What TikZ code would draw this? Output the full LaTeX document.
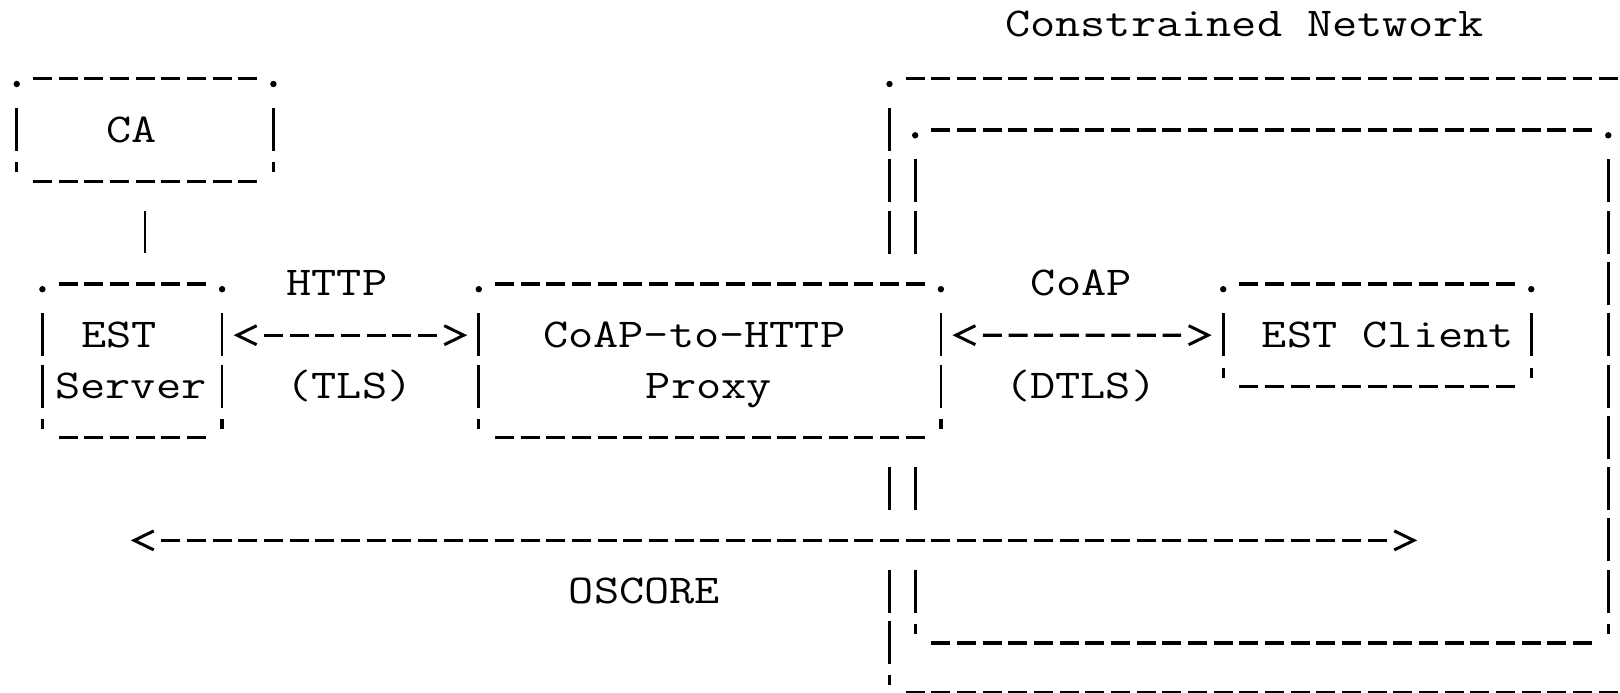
\documentclass[tikz,border=0pt]{standalone}
\usepackage{graphicx}
\usetikzlibrary{fit,decorations.markings}
\tikzset{
  declare function={
    L(\c)=3.9+25.67*\c;
    C(\c)=16.73+25.67*\c;
    T(\r)=108+(\r-2)*51.3;
    D(\r)=130+(\r-2)*51.3;
    B(\r)=142+(\r-2)*51.3;
  },
  hdash/.style={line width=3.2pt, dash pattern=on 19pt off 6.67pt},
  vdash/.style={line width=2.7pt, dash pattern=on 43pt off 8.3pt},
  tickline/.style={line width=3.3pt},
  chv/.style={line width=3pt, solid, line join=miter},
  boxn/.style={inner sep=0pt, draw=none},
  tx/.style={inner sep=0pt, anchor=base west, font=\fontsize{41}{41}\selectfont\ttfamily},
  asciiarrow/.style={draw=none,
    postaction={draw, hdash, shorten <=41.84pt, shorten >=41.84pt},
    postaction={decorate, decoration={markings,
      mark=at position 14.84pt with {\draw[chv] (19.5pt,9.5pt) -- (0pt,0pt) -- (19.5pt,-9.5pt);},
      mark=at position -14.84pt with {\draw[chv] (-19.5pt,9.5pt) -- (0pt,0pt) -- (-19.5pt,-9.5pt);}}}}
}
\newcommand\xs[1]{\scalebox{1.1926}[1]{#1}}
\newcommand\aHD[3]{\draw[hdash] ({L(#1)+3.33},{D(#3)}) -- ({L(#2)+22.34},{D(#3)});}
\newcommand\aDot[2]{\fill ({C(#1)},{D(#2)+5.3}) circle (3.2pt);}
\newcommand\aTick[2]{\draw[tickline] ({C(#1)},{D(#2)-19}) -- ({C(#1)},{D(#2)-9});}
\newcommand\aBar[3]{\draw[vdash] ({C(#1)},{T(#2)}) -- ({C(#1)},{T(#3)+43});}
\newcommand\aBox[5]{%
  \node[boxn, fit={({C(#2)},{D(#3)}) ({C(#4)},{D(#5)})}] (#1) {};
  \aDot{#2}{#3}\aDot{#4}{#3}\aHD{#2+1}{#4-1}{#3}%
  \aBar{#2}{#3+1}{#5-1}\aBar{#4}{#3+1}{#5-1}%
  \aTick{#2}{#5}\aTick{#4}{#5}\aHD{#2+1}{#4-1}{#5}}
\begin{document}
\begin{tikzpicture}[x=1pt,y=-1pt]
\path[use as bounding box, fill=white] (0,0) rectangle (1620,693);

% title
\node[tx] (tnet) at ({L(39)},{B(0)-3}) {\xs{Constrained Network}};

% boxes
\aBox{ca}{0}{1}{10}{3}
\aBox{est}{1}{5}{8}{8}
\aBox{proxy}{18}{5}{36}{8}
\aBox{client}{47}{5}{59}{7}

% outer constrained-network box
\node[boxn, fit={({C(34)},{D(1)}) ({C(63)},{D(13)})}] (outer) {};
\aDot{34}{1}\aHD{35}{62}{1}
\aBar{34}{2}{4}\aBar{34}{9}{9}\aBar{34}{11}{12}
\aTick{34}{13}
\draw[hdash] ({L(35)+3.33},692.2) -- ({L(62)+22.34},692.2);

% inner box
\node[boxn, fit={({C(35)},{D(2)}) ({C(62)},{D(12)})}] (inner) {};
\aDot{35}{2}\aDot{62}{2}\aHD{36}{61}{2}
\aBar{35}{3}{4}\aBar{35}{9}{9}\aBar{35}{11}{11}
\aBar{62}{3}{11}
\aTick{35}{12}\aTick{62}{12}\aHD{36}{61}{12}

% box texts
\node[tx] (tca) at ({L(4)},{B(2)}) {\xs{CA}};
\node[tx] (test1) at ({L(3)},{B(6)}) {\xs{EST}};
\node[tx] (test2) at ({L(2)},{B(7)}) {\xs{Server}};
\node[tx] (tproxy1) at ({L(21)},{B(6)}) {\xs{CoAP-to-HTTP}};
\node[tx] (tproxy2) at ({L(25)},{B(7)}) {\xs{Proxy}};
\node[tx] (tclient) at ({L(49)},{B(6)}) {\xs{EST Client}};

% connector CA -- EST server
\draw[vdash, shorten <=29.3pt, shorten >=30.3pt] (ca.south) -- (ca.south |- est.north);

% HTTP / CoAP arrows
\draw[asciiarrow] ([yshift=25.65pt]est.east) -- ([yshift=25.65pt]proxy.west);
\draw[asciiarrow] ([yshift=25.65pt]proxy.east) -- (client.west);
\node[tx] (thttp) at ({L(11)},{B(5)}) {\xs{HTTP}};
\node[tx] (ttls) at ({L(11)},{B(7)}) {\xs{(TLS)}};
\node[tx] (tcoap) at ({L(40)},{B(5)}) {\xs{CoAP}};
\node[tx] (tdtls) at ({L(39)},{B(7)}) {\xs{(DTLS)}};

% OSCORE end-to-end arrow
\coordinate (osL) at ({C(4)},{D(10)});
\coordinate (osR) at ({C(55)},{D(10)});
\draw[asciiarrow] (osL) -- (osR);
\node[tx] (toscore) at ({L(22)},{B(11)}) {\xs{OSCORE}};
\end{tikzpicture}
\end{document}
